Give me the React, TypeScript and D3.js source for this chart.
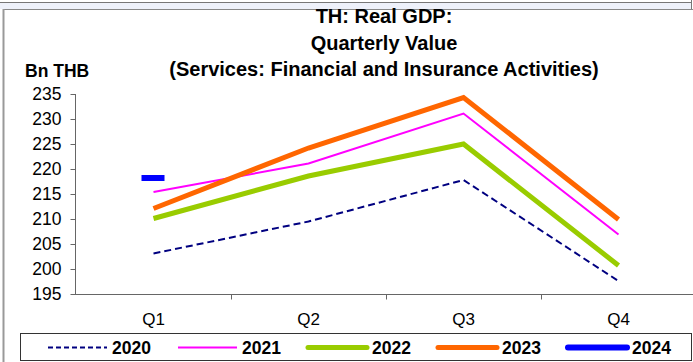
import { useRef, useEffect } from "react";
import * as d3 from "d3";

const quarters = ["Q1", "Q2", "Q3", "Q4"];
const years = ["2020", "2021", "2022", "2023", "2024"];
const v2020 = [203.1, 209.5, 217.8, 197.6];
const v2021 = [215.4, 221.1, 231.1, 206.9];
const v2022 = [210.1, 218.6, 225.0, 200.7];
const v2023 = [212.1, 224.2, 234.3, 209.9];
const v2024 = [218.2];
const yTicks = [195, 200, 205, 210, 215, 220, 225, 230, 235];
const titleLines = [
  "TH: Real GDP:",
  "Quarterly Value",
  "(Services: Financial and Insurance Activities)",
];

const colors = ["#000080", "#ff00ff", "#99cc00", "#ff6600", "#0000ff"];
const widths = [2, 2, 5, 5, 6];

const App = () => {
  const ref = useRef<SVGSVGElement>(null);

  useEffect(() => {
    if (!ref.current) return;
    const svg = d3.select(ref.current);
    svg.selectAll("*").remove();
    const font = "'Liberation Sans', Arial, sans-serif";

    // frame bits
    svg.append("rect").attr("x", 0).attr("y", 2).attr("width", 691).attr("height", 7).attr("fill", "#eef1fa");
    svg.append("line").attr("x1", 0).attr("x2", 691).attr("y1", 2.5).attr("y2", 2.5).attr("stroke", "#777");
    svg.append("line").attr("x1", 691.5).attr("x2", 691.5).attr("y1", 0).attr("y2", 9).attr("stroke", "#777");
    svg.append("line").attr("x1", 3).attr("x2", 693).attr("y1", 9.5).attr("y2", 9.5).attr("stroke", "#888");
    svg.append("line").attr("x1", 3.5).attr("x2", 3.5).attr("y1", 9).attr("y2", 362).attr("stroke", "#999").attr("stroke-width", 2);

    const x = d3.scaleBand().domain(quarters).range([76, 696]);
    const y = d3.scaleLinear().domain([195, 235]).range([294, 94]);

    // title
    svg
      .append("g")
      .selectAll("text")
      .data(titleLines)
      .enter()
      .append("text")
      .attr("x", 384)
      .attr("y", (_d, i) => 23 + i * 26.5)
      .attr("text-anchor", "middle")
      .style("font-family", font)
      .style("font-weight", "bold")
      .style("font-size", "20px")
      .text((d) => d);

    svg
      .append("text")
      .attr("x", 25)
      .attr("y", 77)
      .style("font-family", font)
      .style("font-weight", "bold")
      .style("font-size", "17.5px")
      .text("Bn THB");

    // y axis
    const yAxis = svg.append("g").attr("transform", "translate(75.5,0)");
    yAxis.append("line").attr("y1", y(235)).attr("y2", y(195) + 0.5).attr("stroke", "#666");
    yTicks.forEach((t) => {
      yAxis.append("line").attr("x1", -5).attr("x2", 0).attr("y1", Math.round(y(t)) + 0.5).attr("y2", Math.round(y(t)) + 0.5).attr("stroke", "#666");
      yAxis
        .append("text")
        .attr("x", -14)
        .attr("y", y(t))
        .attr("dy", "0.36em")
        .attr("text-anchor", "end")
        .style("font-family", font)
        .style("font-size", "17.5px")
        .text(t);
    });

    // x axis
    const xAxis = svg.append("g").attr("transform", `translate(0,${y(195) + 0.5})`);
    xAxis.append("line").attr("x1", 75).attr("x2", 693).attr("stroke", "#666");
    quarters.forEach((q, i) => {
      if (i > 0) {
        const bx = Math.round(x(q)!) + 0.5;
        xAxis.append("line").attr("x1", bx).attr("x2", bx).attr("y1", 0).attr("y2", 5).attr("stroke", "#666");
      }
      xAxis
        .append("text")
        .attr("x", x(q)! + x.bandwidth() / 2)
        .attr("y", 24)
        .attr("dy", "0.36em")
        .attr("text-anchor", "middle")
        .style("font-family", font)
        .style("font-size", "17px")
        .text(q);
    });

    // lines
    const cx = (i: number) => x(quarters[i])! + x.bandwidth() / 2;
    const line = d3
      .line<number>()
      .x((_d, i) => cx(i))
      .y((d) => y(d));
    const series = [v2020, v2021, v2022, v2023];
    series.forEach((s, k) => {
      svg
        .append("path")
        .attr("d", line(s))
        .attr("fill", "none")
        .attr("stroke", colors[k])
        .attr("stroke-width", widths[k])
        .attr("stroke-dasharray", k === 0 ? "7,4" : null)
        .attr("stroke-linejoin", "miter");
    });
    // 2024: dash marker
    svg
      .selectAll("rect.m24")
      .data(v2024)
      .enter()
      .append("rect")
      .attr("class", "m24")
      .attr("x", (_d, i) => cx(i) - 12)
      .attr("y", (d) => y(d) - 3)
      .attr("width", 23)
      .attr("height", 6)
      .attr("fill", colors[4]);

    // legend
    const lg = svg.append("g");
    lg.append("rect").attr("x", 20.5).attr("y", 333.5).attr("width", 671).attr("height", 27).attr("fill", "white").attr("stroke", "#333");
    years.forEach((yr, i) => {
      const lx = 48 + i * 130;
      lg.append("line")
        .attr("x1", lx)
        .attr("x2", lx + 59)
        .attr("y1", 347.5)
        .attr("y2", 347.5)
        .attr("stroke", colors[i])
        .attr("stroke-width", widths[i])
        .attr("stroke-linecap", i >= 2 ? "round" : "butt")
        .attr("stroke-dasharray", i === 0 ? "5,3" : null);
      lg.append("text")
        .attr("x", lx + 64)
        .attr("y", 347.5)
        .attr("dy", "0.36em")
        .style("font-family", font)
        .style("font-weight", "bold")
        .style("font-size", "17.5px")
        .text(yr);
    });
  }, []);

  return (
    <div style={{ position: "absolute", left: 0, top: 0 }}>
      <svg ref={ref} width={693} height={362} style={{ display: "block", background: "white" }} />
    </div>
  );
};

export default App;
